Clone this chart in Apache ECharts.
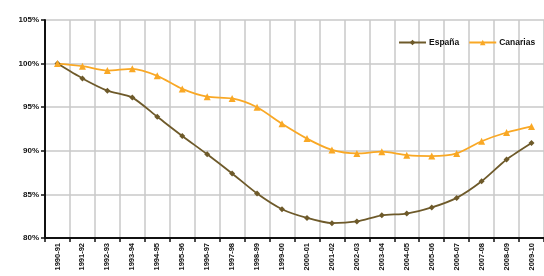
<!DOCTYPE html>
<html lang="es">
<head>
    <meta charset="UTF-8"/>
    <script type="text/javascript" src="https://cdn.jsdelivr.net/npm/echarts@6/dist/echarts.min.js"></script>
    <title>España / Canarias</title>
    <style>
        html, body { margin: 0; padding: 0; background: #fff; }
        #main { width: 544px; height: 276px; }
    </style>
</head>
<body>
<div id="main"></div>
<script type="text/javascript">
    var cursos = ['1990-91', '1991-92', '1992-93', '1993-94', '1994-95', '1995-96', '1996-97',
        '1997-98', '1998-99', '1999-00', '2000-01', '2001-02', '2002-03', '2003-04',
        '2004-05', '2005-06', '2006-07', '2007-08', '2008-09', '2009-10']
    var espana = [100, 98.3, 96.9, 96.1, 93.9, 91.7, 89.6, 87.4, 85.1, 83.3,
        82.3, 81.7, 81.9, 82.6, 82.8, 83.5, 84.6, 86.5, 89.0, 90.9]
    var canarias = [100, 99.7, 99.2, 99.4, 98.6, 97.1, 96.2, 96.0, 95.0, 93.1,
        91.4, 90.1, 89.7, 89.9, 89.5, 89.4, 89.7, 91.1, 92.1, 92.8]

    var myChart = echarts.init(document.getElementById('main'))
    var fuente = 'Liberation Sans'

    var option = {
        animation: false,
        backgroundColor: '#fff',
        grid: {left: 45, right: -5, top: 20, bottom: 38},
        legend: {
            orient: 'horizontal',
            top: 38,
            left: 398,
            width: 300,
            padding: 0,
            itemWidth: 27,
            itemHeight: 7,
            itemGap: 9,
            textStyle: {fontFamily: fuente, fontSize: 8.5, fontWeight: 'bold', color: '#111', padding: [0, 0, 0, -2]},
            data: ['España', 'Canarias']
        },
        xAxis: {
            type: 'category',
            data: cursos,
            boundaryGap: true,
            axisLine: {lineStyle: {color: '#111', width: 2}},
            axisTick: {show: true, length: 4, lineStyle: {color: '#111', width: 1.5}},
            axisLabel: {
                rotate: 90, interval: 0, margin: 5,
                fontFamily: fuente, fontSize: 7.5, fontWeight: 'bold', color: '#111'
            },
            splitLine: {show: true, lineStyle: {color: '#c8c8c8', width: 1.5}}
        },
        yAxis: {
            type: 'value',
            min: 80, max: 105, interval: 5,
            axisLine: {show: true, lineStyle: {color: '#111', width: 2}},
            axisTick: {show: true, length: 4, lineStyle: {color: '#111', width: 1.5}},
            axisLabel: {
                formatter: '{value}%', margin: 6,
                fontFamily: fuente, fontSize: 8, fontWeight: 'bold', color: '#111'
            },
            splitLine: {lineStyle: {color: '#c8c8c8', width: 1.5}}
        },
        series: [
            {
                name: 'España', type: 'line', data: espana, smooth: 0.25,
                symbol: 'diamond', symbolSize: 6,
                itemStyle: {color: '#6e5a2a'},
                lineStyle: {color: '#6e5a2a', width: 1.8}
            },
            {
                name: 'Canarias', type: 'line', data: canarias, smooth: 0.25,
                symbol: 'triangle', symbolSize: 7,
                itemStyle: {color: '#f9a825'},
                lineStyle: {color: '#f9a825', width: 1.8}
            }
        ]
    }
    myChart.setOption(option)
</script>
</body>
</html>
